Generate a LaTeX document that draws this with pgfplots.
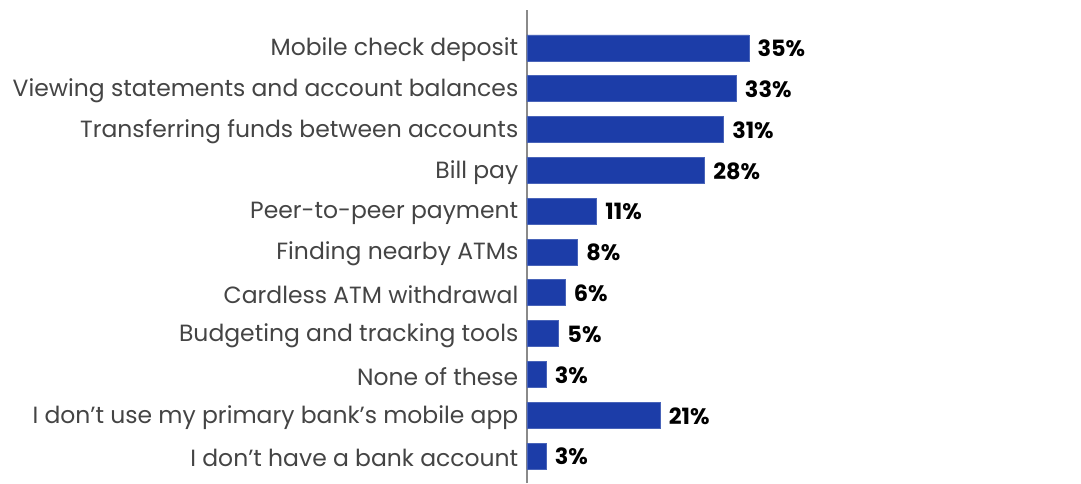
\documentclass[border=0pt]{standalone}
\usepackage{fontspec}
\setmainfont{Poppins}
\usepackage{pgfplots}
\pgfplotsset{compat=1.18}
\definecolor{barblue}{HTML}{1C3DA8}
\definecolor{labgrey}{HTML}{444444}
\definecolor{axgrey}{HTML}{8A8A8A}
\begin{document}
\begin{tikzpicture}[x=0.75pt,y=0.75pt]
\path (-527,0) rectangle (554,483);
\begin{axis}[
    at={(0,0)}, anchor=south west,
    scale only axis,
    width=415.5pt, height=354.75pt,
    xbar, bar width=19.5pt,
    xmin=0, xmax=87.4,
    ymin=-0.66, ymax=10.93,
    axis x line=none,
    axis y line=left,
    y axis line style={-, draw=axgrey, line width=0.8pt},
    ytick={0,...,10},
    yticklabels={I don't have a bank account,
                 I don't use my primary bank's mobile app,
                 None of these,
                 Budgeting and tracking tools,
                 Cardless ATM withdrawal,
                 Finding nearby ATMs,
                 Peer-to-peer payment,
                 Bill pay,
                 Transferring funds between accounts,
                 Viewing statements and account balances,
                 Mobile check deposit},
    major tick length=0pt,
    yticklabel style={font=\fontsize{17.6}{20}\selectfont, text=labgrey, anchor=east, xshift=-3pt, yshift=-1.5pt},
    point meta=x,
    nodes near coords={\pgfmathprintnumber[assume math mode=true]{\pgfplotspointmeta}\%},
    every node near coord/.append style={font=\bfseries\fontsize{16.8}{18}\selectfont, text=black, anchor=west, xshift=3pt, yshift=-0.5pt},
    clip=false,
]
\addplot[fill=barblue, draw=barblue!80!white, line width=0.5pt] coordinates {
    (3,0) (21,1) (3,2) (5,3) (6,4) (8,5) (11,6) (28,7) (31,8) (33,9) (35,10)
};
\end{axis}
\end{tikzpicture}
\end{document}
